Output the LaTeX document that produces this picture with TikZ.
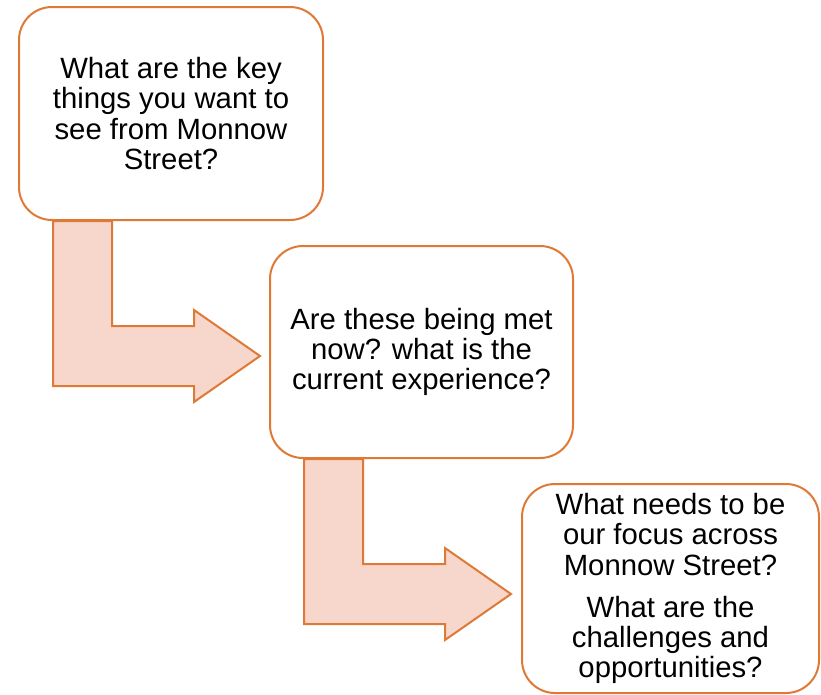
\documentclass[tikz,border=0pt]{standalone}
\usepackage{fontspec}
\setmainfont{Liberation Sans}
\usetikzlibrary{calc}
\pgfdeclarelayer{background}
\pgfsetlayers{background,main}
\definecolor{edge}{RGB}{222,121,54}
\definecolor{pale}{RGB}{247,215,203}
\tikzset{
  qbox/.style={draw=edge, line width=2pt, fill=white, rounded corners=33pt,
    align=center, inner sep=0pt, font=\fontsize{29.3}{30.4}\selectfont},
  bentarrow/.style={draw=edge, line width=2pt, fill=pale, line join=miter}
}
\begin{document}
\begin{tikzpicture}[x=1pt, y=-1pt]
\useasboundingbox (0,0) rectangle (821,694);
\node[qbox, minimum width=304pt, minimum height=213pt] (box1) at (171,113.5)
  {What are the key\\things you want to\\see from Monnow\\Street?};
\node[qbox, minimum width=303pt, minimum height=212pt] (box2) at (421.5,352)
  {Are these being met\\now? what is the\\current experience?};
\node[qbox, minimum width=297pt, minimum height=209pt] (box3) at (670.5,588.5)
  {What needs to be\\our focus across\\Monnow Street?\\[11.5pt]What are the\\challenges and\\opportunities?};
% bent block arrows, behind the boxes
\coordinate (a1) at ($(box1.south west)+(35,0)$);
\coordinate (a2) at ($(box2.south west)+(35,0)$);
\begin{pgfonlayer}{background}
\foreach \s in {a1,a2}{
  \draw[bentarrow] (\s) -- ++(59,0) -- ++(0,105) -- ++(82,0) -- ++(0,-16)
    -- ++(66,46) -- ++(-66,46) -- ++(0,-16) -- ++(-141,0) -- cycle;
}
\end{pgfonlayer}
\end{tikzpicture}
\end{document}
